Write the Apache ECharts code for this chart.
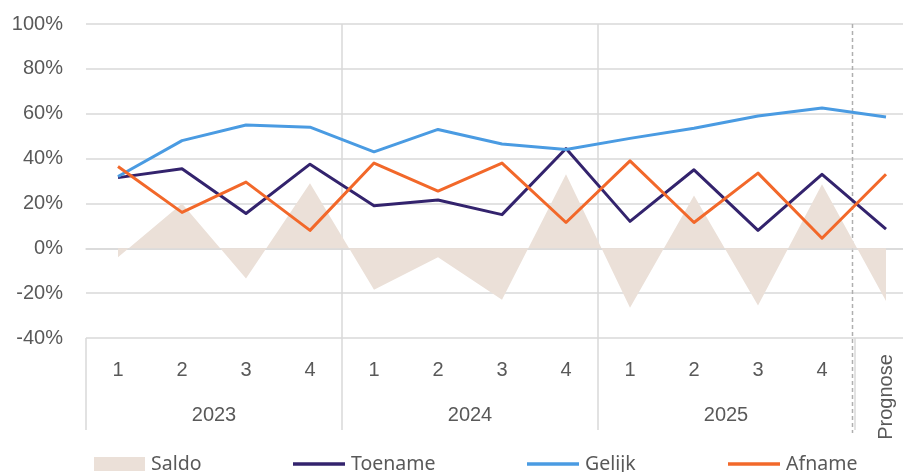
<!DOCTYPE html>
<html>
<head>
<meta charset="utf-8">
<script src="https://cdn.jsdelivr.net/npm/echarts@6/dist/echarts.min.js"></script>
<style>
  html, body { margin: 0; padding: 0; background: #fff; }
  #chart { width: 903px; height: 472px; }
</style>
</head>
<body>
<div id="chart"></div>
<script>
// quarter labels along the axis, last one is the forecast
const quarters = ['1', '2', '3', '4', '1', '2', '3', '4', '1', '2', '3', '4', 'Prognose'];
const years = ['2023', '2024', '2025'];
const yTicks = { min: -40, max: 100, step: 20 };

// values in %
const saldo   = [-4, 20, -13.5, 29, -18.5, -4, -23, 33, -26.5, 23.5, -25.5, 28.5, -23.5];
const toename = [31.5, 35.5, 15.5, 37.5, 19, 21.5, 15, 44.5, 12, 35, 8, 33, 8.5];
const gelijk  = [32, 48, 55, 54, 43, 53, 46.5, 44, 49, 53.5, 59, 62.5, 58.5];
const afname  = [36.5, 16, 29.5, 8, 38, 25.5, 38, 11.5, 39, 11.5, 33.5, 4.5, 33];

const grey = '#595959';
const gridCol = '#D9D9D9';
const axisFont = 'Liberation Sans, Arial, sans-serif';
const legendFont = 'Noto Sans, sans-serif';

const chart = echarts.init(document.getElementById('chart'));

const legendBase = {
  top: 454,
  padding: 0,
  icon: 'rect',
  itemWidth: 52,
  itemHeight: 3.5,
  selectedMode: false,
  textStyle: { color: grey, fontSize: 19.5, fontFamily: legendFont, padding: [0, 0, 0, 1] }
};

const option = {
  animation: false,
  grid: { left: 86, top: 24, width: 832, height: 314, outerBoundsMode: 'none' },
  legend: [
    Object.assign({}, legendBase, { left: 94, data: ['Saldo'], itemWidth: 51, itemHeight: 14 }),
    Object.assign({}, legendBase, { left: 293, data: ['Toename'] }),
    Object.assign({}, legendBase, { left: 527, data: ['Gelijk'] }),
    Object.assign({}, legendBase, { left: 728, data: ['Afname'] })
  ],
  xAxis: {
    type: 'category',
    boundaryGap: true,
    data: quarters.map((q, i) => 'c' + i),
    axisLine: { lineStyle: { color: gridCol, width: 1.5 } },
    axisTick: { show: false },
    axisLabel: {
      interval: 0,
      margin: 22,
      color: grey,
      fontSize: 20,
      fontFamily: axisFont,
      formatter: (v, i) => (i === quarters.length - 1 ? '' : quarters[i])
    },
    splitLine: { show: false }
  },
  yAxis: {
    type: 'value',
    min: yTicks.min,
    max: yTicks.max,
    interval: yTicks.step,
    axisLine: { show: false },
    axisTick: { show: false },
    axisLabel: {
      margin: 23,
      color: grey,
      fontSize: 20,
      fontFamily: axisFont,
      formatter: '{value}%'
    },
    splitLine: { lineStyle: { color: gridCol, width: 1.5 } }
  },
  series: [
    {
      name: 'Saldo',
      type: 'line',
      data: saldo,
      symbol: 'none',
      color: '#EBE0D8',
      lineStyle: { width: 0, opacity: 0 },
      areaStyle: { color: '#EBE0D8', opacity: 1 },
      z: 1
    },
    {
      name: 'Toename',
      type: 'line',
      data: toename,
      symbol: 'none',
      color: '#33236D',
      lineStyle: { width: 3, join: 'round' },
      z: 3
    },
    {
      name: 'Gelijk',
      type: 'line',
      data: gelijk,
      symbol: 'none',
      color: '#4A9BE2',
      lineStyle: { width: 3, join: 'round' },
      z: 3
    },
    {
      name: 'Afname',
      type: 'line',
      data: afname,
      symbol: 'none',
      color: '#F2682A',
      lineStyle: { width: 3, join: 'round' },
      z: 4
    }
  ]
};

chart.setOption(option);

// multi-level axis: separators, year labels, rotated "Prognose"
const px = i => chart.convertToPixel({ xAxisIndex: 0 }, i);
const py = v => chart.convertToPixel({ yAxisIndex: 0 }, v);
const half = (px(1) - px(0)) / 2;
const yTop = py(yTicks.max);
const yAxisLine = py(yTicks.min);
const yLabelsEnd = yAxisLine + 92;
const graphics = [];

function vline(x, y1, y2, dashed) {
  graphics.push({
    type: 'line',
    silent: true,
    z: 0,
    shape: { x1: x, y1: y1, x2: x, y2: y2 },
    style: { stroke: dashed ? '#AFAFAF' : gridCol, lineWidth: 1.5, lineDash: dashed ? [4, 3] : null }
  });
}

vline(px(0) - half, yAxisLine, yLabelsEnd, false);
years.forEach((y, k) => {
  const first = k * 4;
  const last = first + 3;
  const cx = (px(first) + px(last)) / 2;
  graphics.push({
    type: 'text',
    silent: true,
    x: cx,
    y: yAxisLine + 77,
    style: { text: y, fill: grey, font: '20px ' + axisFont, align: 'center', verticalAlign: 'middle' }
  });
  if (k < years.length - 1) vline(px(last) + half, yTop, yLabelsEnd, false);
});

const lastIdx = quarters.length - 1;
const progX = px(lastIdx) - half;
vline(progX - 1.5, yTop, yLabelsEnd + 3, true);
vline(progX + 1, yAxisLine, yLabelsEnd, false);
graphics.push({
  type: 'text',
  silent: true,
  x: px(lastIdx),
  y: yAxisLine + 59,
  rotation: Math.PI / 2,
  style: { text: quarters[lastIdx], fill: grey, font: '20px ' + axisFont, align: 'center', verticalAlign: 'middle' }
});

chart.setOption({ graphic: graphics });
</script>
</body>
</html>
